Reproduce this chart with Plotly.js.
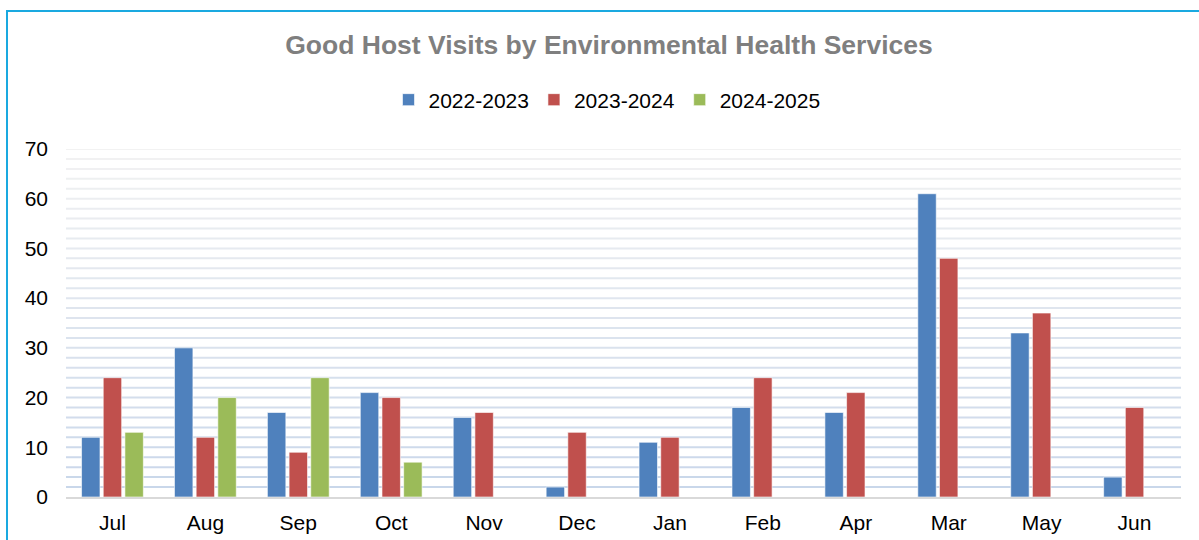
<!DOCTYPE html>
<html>
<head>
<meta charset="utf-8">
<script src="https://cdn.plot.ly/plotly-3.0.1.min.js"></script>
<style>
  html, body { margin: 0; padding: 0; background: #fff; }
  #wrap { position: relative; width: 1199px; height: 540px; overflow: hidden; }
  #frame { position: absolute; left: 6px; top: 10px; width: 1300px; height: 600px;
           border-left: 2px solid #1aa9e0; border-top: 2px solid #1aa9e0; box-sizing: border-box; pointer-events: none; }
  #chart { position: absolute; left: 0; top: 0; width: 1199px; height: 540px; }
</style>
</head>
<body>
<div id="wrap">
  <div id="chart"></div>
  <div id="frame"></div>
</div>
<script>
const months = ["Jul","Aug","Sep","Oct","Nov","Dec","Jan","Feb","Apr","Mar","May","Jun"];
const fy2022_2023 = [12, 30, 17, 21, 16, 2, 11, 18, 17, 61, 33, 4];
const fy2023_2024 = [24, 12, 9, 20, 17, 13, 12, 24, 21, 48, 37, 18];
const fy2024_2025 = [13, 20, 24, 7, null, null, null, null, null, null, null, null];
const seriesNames = ["2022-2023", "2023-2024", "2024-2025"];
const seriesColors = ["#4F81BD", "#C0504D", "#9BBB59"];

const yMax = 70;
const gridStep = 2;

const allSeries = [fy2022_2023, fy2023_2024, fy2024_2025];
const traces = allSeries.map((vals, i) => ({
  type: "bar",
  name: seriesNames[i],
  x: months,
  y: vals,
  marker: { color: seriesColors[i], line: { color: "rgba(255,255,255,0.6)", width: 1 } },
  hoverinfo: "x+y+name"
}));

function lerp(a, b, t) { return Math.round(a + (b - a) * t); }
const topC = [242, 242, 242], botC = [200, 214, 234];
const shapes = [];
for (let v = gridStep; v <= yMax; v += gridStep) {
  const t = v / yMax;
  const c = `rgb(${lerp(botC[0], topC[0], t)},${lerp(botC[1], topC[1], t)},${lerp(botC[2], topC[2], t)})`;
  shapes.push({ type: "line", xref: "paper", yref: "y", x0: 0, x1: 1, y0: v, y1: v,
                line: { color: c, width: 2 }, layer: "below" });
}

const layout = {
  width: 1199, height: 540,
  margin: { l: 66, r: 18, t: 149, b: 43 },
  paper_bgcolor: "#ffffff", plot_bgcolor: "#ffffff",
  font: { family: "Liberation Sans, Arial, sans-serif", size: 21, color: "#000000" },
  title: { text: "Good Host Visits by Environmental Health Services",
           font: { family: "Liberation Sans, Arial, sans-serif", size: 26.5, color: "#7f7f7f", weight: "bold" },
           x: 609/1199, xref: "container", xanchor: "center", y: 1 - 45/540, yref: "container", yanchor: "middle" },
  barmode: "group",
  bargap: 0.30,
  bargroupgap: 0.15,
  showlegend: true,
  legend: { orientation: "h", xref: "container", yref: "container", x: 607/1199, xanchor: "center",
            y: 1 - 100/540, yanchor: "middle", font: { size: 21 }, itemclick: false, traceorder: "normal",
            itemwidth: 30, tracegroupgap: 0 },
  xaxis: { type: "category", showgrid: false, showline: true, linecolor: "#d9d9d9", linewidth: 2,
           ticks: "", ticklabelstandoff: 6, tickfont: { size: 21 }, fixedrange: true },
  yaxis: { range: [0, yMax], dtick: 10, showgrid: false, zeroline: false, showline: false,
           ticks: "", ticklabelstandoff: 17, tickfont: { size: 21 }, fixedrange: true },
  shapes: shapes
};

Plotly.newPlot("chart", traces, layout, { displayModeBar: false, staticPlot: true });
</script>
</body>
</html>
